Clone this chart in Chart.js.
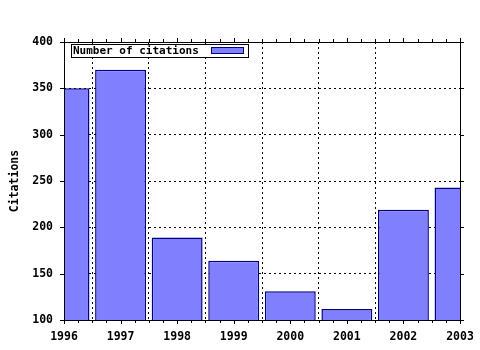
<!DOCTYPE html>
<html>
<head>
<meta charset="utf-8">
<script src="https://cdn.jsdelivr.net/npm/chart.js@4"></script>
<style>
  html, body { margin: 0; padding: 0; background: #fff; }
  #wrap { width: 480px; height: 350px; }
</style>
</head>
<body>
<div id="wrap"><canvas id="chart" width="480" height="350"></canvas></div>
<script>
const years = [1996, 1997, 1998, 1999, 2000, 2001, 2002, 2003];
const citations = [350, 370, 189, 164, 131, 112, 219, 243];
const yTicks = [100, 150, 200, 250, 300, 350, 400];

const FONT = { family: "'DejaVu Sans Mono', monospace", size: 11.5, weight: "bold" };

// frame, tick marks (incl. minor ones) and the boxed legend
const decor = {
  id: "decor",
  afterDraw(chart) {
    const { ctx, chartArea: a, scales } = chart;
    const x = scales.x, y = scales.y;
    ctx.save();
    ctx.strokeStyle = "#000";
    ctx.lineWidth = 1;
    ctx.strokeRect(Math.round(a.left) + 0.5, Math.round(a.top) + 0.5,
      Math.round(a.right - a.left), Math.round(a.bottom - a.top));

    ctx.beginPath();
    for (let v = years[0]; v <= years[years.length - 1] + 0.001; v += 0.25) {
      const px = Math.round(x.getPixelForValue(v)) + 0.5;
      const len = Math.abs(v - Math.round(v)) < 0.01 ? 4 : 3;
      ctx.moveTo(px, a.bottom); ctx.lineTo(px, a.bottom + len);
      ctx.moveTo(px, a.top); ctx.lineTo(px, a.top - len);
    }
    for (let v = yTicks[0]; v <= yTicks[yTicks.length - 1]; v += 50) {
      const py = Math.round(y.getPixelForValue(v)) + 0.5;
      ctx.moveTo(a.left, py); ctx.lineTo(a.left - 4, py);
      ctx.moveTo(a.right, py); ctx.lineTo(a.right + 4, py);
    }
    ctx.stroke();

    const ds = chart.data.datasets[0];
    ctx.fillStyle = "#fff";
    ctx.fillRect(71, 44, 177, 13);
    ctx.strokeRect(71.5, 44.5, 177, 13);
    ctx.font = `bold 11px ${FONT.family}`;
    ctx.fillStyle = "#000";
    ctx.textBaseline = "middle";
    ctx.fillText(ds.label, 73, 51);
    ctx.fillStyle = ds.backgroundColor;
    ctx.fillRect(211, 47, 32, 6);
    ctx.strokeStyle = ds.borderColor;
    ctx.strokeRect(211.5, 47.5, 32, 6);
    ctx.restore();
  }
};

new Chart(document.getElementById("chart"), {
  type: "bar",
  data: {
    datasets: [{
      label: "Number of citations",
      data: years.map((yr, i) => ({ x: yr, y: citations[i] })),
      backgroundColor: "#8080ff",
      borderColor: "#000080",
      borderWidth: 1.5,
      barPercentage: 0.9,
      categoryPercentage: 1
    }]
  },
  options: {
    responsive: false,
    animation: false,
    layout: { padding: { top: 42, right: 20, left: 0, bottom: 0 } },
    plugins: { legend: { display: false }, tooltip: { enabled: false } },
    scales: {
      x: {
        type: "linear",
        offset: false,
        min: years[0],
        max: years[years.length - 1],
        afterFit: s => { s.height = 30; s.paddingLeft = 0; s.paddingRight = 0; },
        grid: { color: "#000", drawTicks: false, lineWidth: c => (c.index === 0 || c.index === years.length - 1) ? 0 : 1 },
        border: { display: false, dash: [2, 3] },
        ticks: { stepSize: 1, padding: 10, color: "#000", font: FONT, callback: v => String(v), maxRotation: 0 }
      },
      y: {
        min: yTicks[0],
        max: yTicks[yTicks.length - 1],
        afterFit: s => { s.width = 64; },
        grid: { color: "#000", drawTicks: false, lineWidth: c => (c.index === 0 || c.index === yTicks.length - 1) ? 0 : 1 },
        border: { display: false, dash: [2, 3] },
        ticks: { stepSize: 50, padding: 11, color: "#000", font: FONT },
        title: { display: true, text: "Citations", color: "#000", font: FONT, padding: { top: 8, bottom: 0 } }
      }
    }
  },
  plugins: [decor]
});
</script>
</body>
</html>
